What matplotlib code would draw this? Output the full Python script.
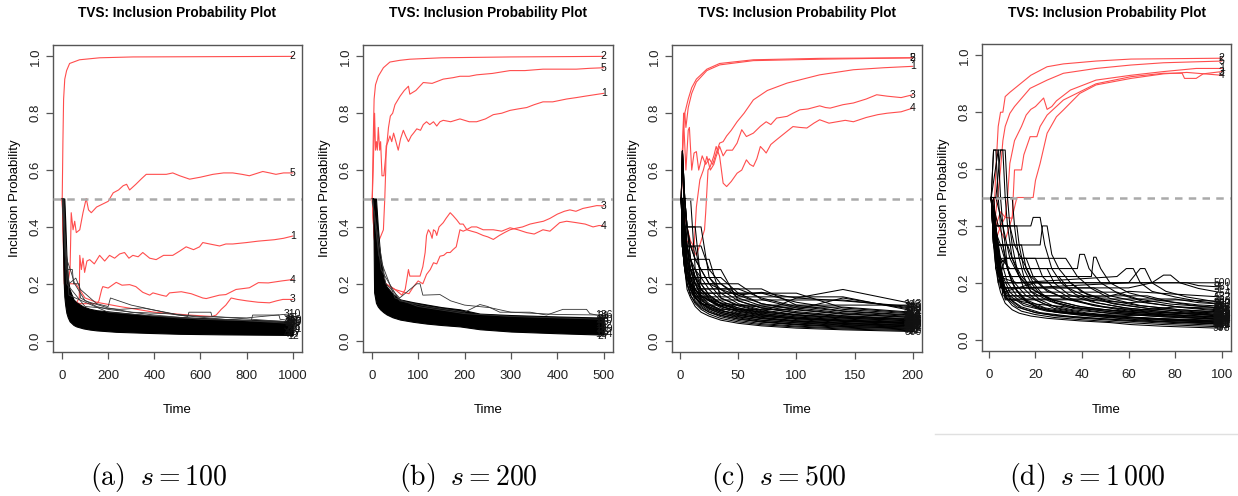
import matplotlib
matplotlib.use("Agg")
import matplotlib.pyplot as plt
from matplotlib import font_manager
from matplotlib.lines import Line2D

# ---------------- data ----------------
# panel (a): s = 100, T = 1000
a_red_ids = ["2", "5", "1", "4", "3"]
a_red_lines = [
    [(1, .5), (4, .7), (7, .85), (12, .92), (20, .95), (33, .975), (76, .988), (163, .995), (307, .998), (1000, 1.0)],
    [(1, .5), (10, .3), (25, .2), (35, .25), (40, .45), (48, .39), (55, .42), (62, .38), (77, .39), (91, .45),
     (105, .5), (115, .46), (127, .45), (150, .47), (175, .48), (200, .49), (222, .52), (245, .53), (265, .545),
     (280, .55), (293, .53), (320, .55), (345, .57), (365, .585), (400, .585), (452, .585), (480, .59), (510, .58),
     (553, .568), (600, .575), (654, .585), (700, .59), (740, .59), (780, .585), (812, .58), (870, .595),
     (900, .59), (927, .585), (960, .59), (1000, .59)],
    [(1, .5), (10, .25), (30, .15), (60, .13), (75, .15), (77, .3), (84, .25), (91, .29), (98, .24), (108, .28),
     (120, .285), (140, .27), (163, .3), (185, .28), (206, .3), (228, .29), (250, .305), (271, .31), (290, .29),
     (307, .3), (330, .295), (350, .31), (380, .29), (408, .285), (440, .3), (480, .3), (510, .315), (538, .33),
     (570, .32), (596, .33), (610, .345), (640, .34), (683, .333), (710, .34), (740, .34), (800, .345),
     (850, .35), (920, .355), (960, .36), (1000, .368)],
    [(1, .5), (10, .2), (30, .14), (80, .13), (150, .13), (160, .14), (172, .18), (177, .19), (200, .185),
     (235, .205), (260, .195), (293, .197), (320, .19), (350, .17), (380, .16), (394, .168), (430, .16),
     (452, .156), (466, .168), (517, .172), (560, .165), (610, .15), (625, .148), (682, .16), (710, .162),
     (754, .18), (812, .186), (851, .204), (894, .203), (952, .21), (1000, .215)],
    [(1, .5), (10, .3), (30, .2), (60, .2), (100, .15), (150, .135), (250, .12), (400, .1), (550, .09),
     (650, .085), (668, .09), (690, .11), (710, .125), (733, .15), (760, .145), (800, .14), (850, .135),
     (899, .133), (930, .14), (957, .145), (1000, .145)],
]
a_band_t = [1, 2, 4, 7, 10, 14, 19, 25, 33, 50, 62, 92, 120, 150, 235, 380, 510, 700, 1000]
a_band_lo = [.5, .5, .35, .215, .156, .125, .098, .082, .068, .055, .05, .043, .039, .036, .031, .027, .024, .022, .02]
a_band_hi = [.5, .5, .5, .5, .5, .42, .3, .22, .18, .145, .135, .12, .112, .107, .1, .088, .083, .076, .068]
a_band_ids = ["12", "407", "93", "251", "338", "74", "160", "219", "45"]
a_band_end = [.016, .024, .032, .04, .048, .056, .064, .072, .08]
a_gray_ids = ["485", "61", "227", "96", "310"]
a_gray_lines = [
    [(1, .5), (5, .5), (20, .25), (45, .25), (50, .2), (75, .2), (80, .15), (150, .12), (200, .11), (400, .09),
     (600, .075), (1000, .065)],
    [(1, .5), (10, .4), (30, .2), (60, .22), (80, .18), (150, .13), (200, .12), (210, .15), (300, .125),
     (500, .09), (700, .075), (1000, .06)],
    [(1, .5), (20, .2), (100, .12), (250, .11), (350, .115), (545, .085), (550, .1), (645, .1), (650, .085),
     (1000, .065)],
    [(1, .5), (30, .16), (200, .1), (500, .08), (820, .07), (826, .09), (940, .09), (945, .075), (1000, .07)],
    [(1, .5), (8, .5), (15, .3), (40, .24), (55, .2), (100, .14), (200, .115), (300, .1), (450, .095),
     (600, .085), (800, .08), (1000, .095)],
]

# panel (b): s = 200, T = 500
b_red_ids = ["2", "5", "1", "3", "4"]
b_red_lines = [
    [(1, .5), (3, .7), (5, .85), (8, .9), (14, .93), (25, .96), (39, .98), (60, .986), (82, .99), (150, .995),
     (300, .998), (500, 1.0)],
    [(1, .5), (3, .6), (6, .8), (8, .67), (10, .7), (12, .67), (14, .75), (17, .67), (19, .7), (22, .58),
     (26, .58), (30, .65), (33, .7), (36, .75), (40, .79), (45, .8), (50, .83), (61, .86), (70, .88), (79, .895),
     (82, .867), (95, .88), (111, .908), (130, .905), (154, .92), (175, .925), (190, .93), (210, .93),
     (226, .935), (260, .94), (298, .95), (330, .95), (369, .955), (400, .955), (441, .955), (470, .958),
     (500, .96)],
    [(1, .5), (4, .4), (8, .3), (15, .35), (25, .39), (28, .5), (30, .6), (31, .685), (35, .7), (39, .72),
     (43, .7), (47, .73), (52, .7), (57, .67), (62, .71), (68, .74), (73, .72), (79, .7), (85, .72), (90, .73),
     (97, .745), (105, .74), (111, .76), (118, .77), (125, .76), (133, .77), (140, .755), (147, .77),
     (154, .775), (170, .77), (190, .78), (210, .77), (226, .77), (245, .78), (262, .795), (280, .8),
     (298, .81), (315, .815), (334, .82), (350, .83), (369, .84), (390, .84), (405, .845), (420, .85),
     (441, .855), (460, .86), (480, .865), (500, .87)],
    [(1, .5), (4, .4), (8, .3), (15, .25), (30, .2), (50, .18), (65, .16), (72, .18), (76, .22), (79, .25),
     (82, .227), (104, .227), (110, .26), (115, .31), (118, .37), (122, .39), (126, .38), (130, .36),
     (133, .39), (137, .385), (140, .37), (145, .4), (154, .415), (160, .43), (169, .45), (175, .44),
     (183, .425), (190, .41), (197, .41), (205, .39), (215, .385), (226, .38), (240, .37), (250, .365),
     (262, .356), (275, .37), (286, .38), (298, .39), (310, .395), (325, .4), (341, .41), (355, .415),
     (370, .42), (384, .43), (400, .445), (415, .455), (427, .46), (440, .455), (455, .465), (470, .47),
     (485, .475), (500, .474)],
    [(1, .5), (4, .4), (8, .3), (15, .25), (30, .2), (50, .18), (70, .17), (80, .165), (90, .19), (100, .21),
     (110, .2), (118, .233), (126, .25), (133, .274), (140, .27), (147, .297), (155, .3), (162, .31),
     (169, .31), (175, .32), (182, .33), (190, .39), (197, .385), (204, .39), (215, .4), (226, .4), (240, .39),
     (262, .39), (280, .385), (298, .397), (315, .39), (334, .38), (350, .375), (369, .39), (384, .385),
     (405, .415), (420, .42), (441, .415), (460, .41), (477, .4), (490, .405), (500, .403)],
]
b_band_t = [1, 3, 5, 9, 13, 18, 25, 32, 45, 61, 90, 118, 150, 190, 233, 300, 400, 500]
b_band_lo = [.5, .5, .17, .133, .12, .11, .1, .092, .082, .074, .066, .06, .055, .05, .04, .032, .026, .021]
b_band_hi = [.5, .5, .5, .5, .4, .3, .22, .19, .165, .145, .135, .127, .118, .11, .095, .09, .085, .081]
b_band_ids = ["27", "154", "63", "199", "8", "112", "45", "170"]
b_band_end = [.016, .024, .032, .04, .048, .056, .064, .072]
b_gray_ids = ["136", "21", "88"]
b_gray_lines = [
    [(1, .5), (10, .4), (30, .2), (60, .15), (97, .2), (104, .2), (110, .16), (147, .162), (170, .14),
     (200, .125), (255, .116), (300, .1), (400, .092), (500, .09)],
    [(1, .5), (20, .25), (60, .14), (120, .12), (200, .1), (233, .127), (250, .12), (276, .1), (341, .1),
     (377, .09), (412, .11), (463, .11), (470, .095), (500, .085)],
    [(1, .5), (15, .3), (50, .15), (100, .12), (200, .095), (300, .085), (400, .08), (500, .075)],
]

# panel (c): s = 500, T = 200
c_red_ids = ["5", "2", "1", "3", "4"]
c_red_lines = [
    [(1, .5), (2, .6), (3, .8), (4, .8), (5, .75), (7, .82), (10, .87), (14, .91), (23, .95), (34, .97),
     (63, .985), (120, .99), (200, .995)],
    [(1, .5), (2, .67), (3, .75), (4, .8), (7, .85), (10, .89), (14, .92), (23, .955), (34, .975), (63, .988),
     (120, .993), (200, .995)],
    [(1, .5), (2, .67), (3, .78), (5, .6), (7, .74), (8, .75), (10, .6), (12, .66), (14, .665), (16, .6),
     (19, .65), (22, .62), (25, .64), (28, .62), (31, .66), (34, .695), (37, .7), (40, .72), (44, .74),
     (49, .77), (55, .8), (63, .847), (75, .88), (92, .906), (120, .935), (149, .953), (175, .96), (200, .965)],
    [(1, .5), (3, .45), (6, .4), (9, .35), (12, .33), (14, .47), (17, .566), (20, .6), (23, .648), (26, .6),
     (29, .62), (31, .648), (34, .683), (37, .65), (40, .67), (45, .67), (49, .695), (53, .742), (57, .718),
     (63, .73), (69, .754), (74, .77), (78, .76), (83, .783), (92, .789), (97, .8), (103, .812), (110, .815),
     (120, .826), (125, .82), (129, .818), (140, .83), (149, .836), (160, .85), (169, .865), (178, .86),
     (190, .855), (200, .865)],
    [(1, .5), (3, .4), (6, .35), (10, .33), (14, .3), (18, .35), (21, .39), (22, .45), (24, .6), (26, .613),
     (29, .65), (31, .683), (34, .648), (37, .554), (40, .542), (44, .56), (49, .589), (53, .6), (57, .636),
     (60, .62), (63, .613), (66, .64), (69, .683), (72, .67), (74, .66), (78, .69), (83, .707), (90, .73),
     (97, .753), (103, .75), (109, .748), (115, .765), (120, .777), (128, .765), (135, .77), (142, .775),
     (149, .77), (160, .785), (170, .795), (178, .8), (190, .805), (200, .818)],
]
c_black_t = [1, 2, 4, 6, 9, 13, 18, 25, 35, 50, 70, 100, 140, 200]
c_black = [
    [.50, .50, .25, .18, .15, .12, .10, .086, .072, .061, .052, .044, .038, .032],
    [.50, .33, .25, .20, .16, .13, .11, .093, .078, .066, .056, .048, .041, .035],
    [.50, .50, .33, .25, .18, .14, .12, .10, .084, .071, .060, .051, .044, .038],
    [.50, .667, .40, .286, .20, .15, .125, .105, .09, .076, .065, .055, .047, .041],
    [.50, .50, .40, .33, .22, .17, .135, .113, .095, .08, .068, .058, .05, .044],
    [.50, .667, .50, .33, .25, .18, .145, .12, .10, .085, .072, .062, .053, .047],
    [.50, .50, .50, .40, .286, .20, .155, .13, .108, .09, .077, .066, .057, .05],
    [.50, .33, .33, .33, .286, .22, .17, .14, .115, .096, .082, .07, .06, .053],
    [.50, .50, .50, .50, .50, .25, .18, .15, .122, .10, .087, .074, .064, .056],
    [.50, .667, .50, .40, .40, .40, .20, .16, .13, .108, .092, .078, .068, .06],
    [.50, .50, .33, .33, .33, .33, .222, .18, .14, .115, .097, .083, .072, .063],
    [.50, .40, .286, .286, .286, .286, .286, .286, .15, .122, .102, .087, .076, .066],
    [.50, .50, .40, .40, .40, .40, .40, .222, .167, .13, .108, .092, .08, .07],
    [.50, .33, .25, .25, .25, .25, .25, .25, .25, .14, .115, .097, .084, .073],
    [.50, .50, .333, .333, .333, .333, .333, .25, .20, .15, .122, .102, .088, .077],
    [.50, .40, .286, .222, .222, .222, .222, .222, .222, .167, .13, .108, .093, .081],
    [.50, .50, .33, .25, .20, .20, .20, .20, .20, .20, .145, .115, .098, .085],
    [.50, .33, .25, .222, .182, .182, .182, .182, .182, .182, .182, .125, .105, .09],
    [.50, .50, .40, .286, .222, .167, .167, .167, .167, .167, .167, .167, .115, .097],
    [.50, .33, .25, .20, .167, .154, .154, .154, .154, .154, .154, .154, .154, .105],
    [.50, .50, .33, .25, .20, .167, .143, .143, .143, .143, .143, .143, .143, .115],
    [.50, .40, .286, .222, .18, .15, .13, .125, .125, .125, .125, .125, .125, .125],
    [.50, .50, .33, .25, .20, .16, .14, .125, .11, .11, .10, .15, .18, .13],
    [.50, .667, .50, .40, .333, .286, .25, .20, .18, .16, .17, .15, .14, .12],
    [.50, .40, .286, .25, .20, .18, .16, .14, .12, .105, .09, .08, .07, .062],
    [.50, .33, .286, .222, .18, .15, .13, .115, .10, .088, .078, .068, .06, .052],
    [.50, .50, .286, .20, .16, .135, .115, .10, .088, .076, .066, .057, .05, .043],
    [.50, .667, .40, .25, .19, .155, .13, .11, .095, .083, .072, .063, .055, .048],
    [.50, .40, .333, .286, .222, .18, .15, .125, .105, .092, .08, .07, .062, .054],
    [.50, .50, .40, .333, .286, .222, .18, .145, .12, .103, .09, .078, .068, .059],
    [.50, .33, .286, .25, .25, .25, .20, .16, .132, .11, .095, .083, .073, .064],
    [.50, .50, .40, .40, .333, .286, .25, .20, .15, .125, .105, .09, .079, .069],
    [.50, .40, .333, .286, .286, .25, .222, .222, .18, .14, .115, .098, .086, .075],
    [.50, .50, .333, .333, .25, .222, .20, .20, .20, .16, .13, .11, .095, .082],
    [.50, .40, .333, .25, .222, .20, .182, .182, .182, .182, .15, .12, .103, .088],
    [.50, .50, .40, .286, .25, .20, .167, .167, .167, .167, .167, .135, .11, .094],
    [.50, .33, .25, .222, .20, .182, .154, .143, .133, .125, .118, .118, .118, .10],
    [.50, .50, .40, .333, .25, .20, .16, .14, .125, .11, .11, .11, .15, .11],
    [.50, .667, .50, .40, .286, .222, .182, .154, .13, .115, .10, .09, .082, .074],
    [.50, .40, .286, .222, .18, .154, .133, .118, .105, .095, .085, .077, .068, .06],
]
c_black_ids = ["500", "17", "381", "92", "244", "455", "8", "130", "312", "76", "409", "199", "58",
               "287", "433", "11", "350", "161", "224", "479", "37", "398", "143", "266", "65", "421",
               "102", "318", "27", "467", "205", "383", "49", "156", "299", "441", "83", "178", "362", "230"]

# panel (d): s = 1000, T = 100
d_red_ids = ["2", "5", "1", "3", "4"]
d_red_lines = [
    [(1, .5), (2, .4), (3, .6), (4, .75), (5, .8), (6, .8), (7, .855), (9, .87), (12, .89), (15, .91),
     (18, .93), (25, .96), (32, .97), (46, .98), (61, .987), (100, .99)],
    [(1, .5), (2, .35), (3, .45), (5, .6), (6, .7), (7, .75), (9, .796), (11, .82), (13.4, .843), (17.7, .884),
     (25, .913), (32, .937), (46, .954), (61, .966), (75, .974), (100, .98)],
    [(1, .5), (3, .35), (5, .4), (7, .43), (8, .5), (9, .62), (11, .7), (14, .75), (16, .79), (18, .81),
     (20, .82), (23.5, .85), (25, .81), (27, .82), (29, .84), (35, .878), (46, .913), (61, .93), (75, .943),
     (89, .954), (100, .954)],
    [(1, .5), (3, .4), (5, .45), (7, .43), (10, .427), (11, .597), (14, .597), (15, .65), (17.7, .714),
     (20.6, .714), (22, .75), (25, .79), (32, .843), (46, .9), (61, .925), (75, .937), (83, .937), (84, .919),
     (89, .919), (92, .935), (100, .943)],
    [(1, .5), (4, .4), (7, .35), (10, .43), (12, .5), (19, .5), (20, .56), (22, .62), (25, .726), (29, .784),
     (32, .808), (39, .866), (46, .896), (61, .919), (75, .935), (85, .94), (100, .93)],
]
d_black = [
    [(1, .5), (2, .333), (3, .25), (4, .2), (5, .167), (7, .128), (10, .105), (13, .093), (18, .083), (25, .075),
     (39, .066), (52, .06), (61, .053), (75, .047), (100, .04)],
    [(1, .5), (2, .333), (3, .333), (4, .25), (5, .2), (7, .15), (10, .12), (14, .1), (20, .088), (28, .078),
     (40, .07), (55, .062), (75, .053), (100, .045)],
    [(1, .5), (2, .5), (3, .4), (4, .333), (5, .25), (7, .18), (10, .135), (14, .11), (20, .095), (28, .084),
     (40, .075), (55, .067), (75, .058), (100, .05)],
    [(1, .5), (2, .667), (4, .667), (5, .5), (6, .4), (7, .333), (8, .25), (10, .2), (14, .15), (20, .115),
     (28, .097), (40, .085), (55, .075), (75, .064), (100, .055)],
    [(1, .5), (3, .5), (5, .667), (7, .667), (8, .5), (9, .4), (10, .333), (12, .25), (15, .18), (20, .14),
     (28, .11), (40, .093), (55, .082), (75, .07), (100, .06)],
    [(1, .5), (2, .333), (6, .333), (7, .286), (9, .222), (12, .17), (16, .135), (22, .11), (30, .095),
     (42, .085), (60, .074), (80, .066), (100, .06)],
    [(1, .5), (10, .5), (11, .4), (12, .333), (13, .286), (15, .222), (18, .17), (22, .14), (30, .11),
     (42, .094), (60, .08), (80, .071), (100, .065)],
    [(1, .5), (3, .4), (12, .4), (13, .333), (15, .25), (18, .2), (22, .16), (28, .13), (36, .11), (50, .095),
     (70, .083), (100, .07)],
    [(1, .5), (2, .333), (14, .333), (16, .25), (19, .2), (23, .16), (29, .13), (38, .112), (52, .098),
     (72, .086), (100, .075)],
    [(1, .5), (3, .4), (18, .4), (19, .43), (22, .43), (24, .333), (27, .25), (31, .2), (37, .16), (46, .13),
     (60, .11), (80, .095), (100, .082)],
    [(1, .5), (4, .333), (22, .333), (23, .4), (25, .4), (27, .3), (30, .25), (35, .2), (42, .16), (52, .13),
     (68, .11), (85, .097), (100, .088)],
    [(1, .5), (3, .25), (7, .286), (20, .286), (23, .222), (28, .18), (35, .145), (45, .12), (60, .1),
     (80, .088), (100, .08)],
    [(1, .5), (4, .2), (7, .286), (33, .286), (38, .222), (44, .18), (52, .145), (65, .12), (82, .105),
     (100, .095)],
    [(1, .5), (5, .286), (9, .25), (38, .25), (39, .3), (41, .3), (43, .25), (48, .2), (56, .16), (68, .13),
     (84, .112), (100, .1)],
    [(1, .5), (4, .222), (10, .222), (44, .222), (45, .29), (46, .29), (48, .25), (52, .2), (60, .165),
     (72, .14), (88, .12), (100, .11)],
    [(1, .5), (5, .2), (12, .2), (55, .222), (59, .25), (62, .25), (65, .2), (70, .17), (80, .15), (90, .135),
     (100, .125)],
    [(1, .5), (5, .182), (15, .182), (60, .2), (65, .25), (67, .25), (70, .2), (76, .17), (85, .15), (100, .13)],
    [(1, .5), (6, .167), (20, .2), (70, .2), (75, .227), (78, .227), (82, .2), (90, .18), (100, .165)],
    [(1, .5), (4, .222), (12, .2), (99, .2), (100, .2)],
    [(1, .5), (5, .182), (18, .182), (60, .182), (70, .2), (85, .2), (90, .19), (100, .185)],
    [(1, .5), (6, .154), (30, .154), (50, .15), (60, .17), (80, .16), (100, .15)],
    [(1, .5), (7, .14), (40, .14), (60, .13), (80, .14), (100, .135)],
    [(1, .5), (3, .25), (5, .2), (8, .143), (20, .125), (40, .11), (60, .1), (80, .115), (100, .11)],
    [(1, .5), (2, .4), (4, .286), (6, .2), (9, .154), (15, .12), (25, .1), (40, .09), (60, .085), (80, .09),
     (100, .1)],
    [(1, .5), (2, .4), (3, .286), (5, .2), (8, .143), (12, .115), (20, .095), (30, .084), (45, .075),
     (65, .066), (100, .058)],
    [(1, .5), (2, .5), (4, .286), (6, .222), (9, .167), (14, .13), (22, .108), (35, .093), (50, .083),
     (70, .075), (100, .068)],
    [(1, .5), (2, .333), (4, .25), (6, .182), (9, .143), (14, .115), (22, .095), (35, .082), (55, .07),
     (80, .06), (100, .055)],
    [(1, .5), (3, .333), (5, .286), (8, .2), (12, .154), (18, .125), (26, .105), (40, .09), (60, .078),
     (80, .07), (100, .065)],
    [(1, .5), (2, .4), (5, .333), (8, .25), (11, .2), (16, .154), (24, .125), (36, .105), (52, .092),
     (75, .08), (100, .072)],
    [(1, .5), (3, .5), (6, .4), (9, .286), (13, .222), (18, .18), (26, .143), (38, .118), (55, .1), (78, .087),
     (100, .078)],
    [(1, .5), (2, .333), (8, .333), (10, .286), (14, .222), (20, .17), (28, .138), (40, .115), (58, .098),
     (80, .086), (100, .078)],
    [(1, .5), (4, .4), (9, .4), (11, .333), (14, .286), (18, .222), (25, .17), (35, .14), (50, .115),
     (72, .097), (100, .085)],
    [(1, .5), (3, .286), (16, .286), (19, .222), (24, .18), (32, .145), (45, .12), (64, .1), (85, .09),
     (100, .085)],
    [(1, .5), (4, .25), (25, .25), (28, .2), (34, .16), (44, .133), (58, .112), (78, .097), (100, .088)],
    [(1, .5), (5, .222), (30, .222), (34, .182), (42, .15), (54, .125), (70, .108), (100, .092)],
    [(1, .5), (5, .2), (35, .2), (40, .167), (50, .14), (64, .12), (82, .105), (100, .098)],
    [(1, .5), (6, .182), (45, .182), (52, .154), (64, .133), (80, .116), (100, .104)],
    [(1, .5), (6, .167), (55, .167), (64, .143), (78, .125), (100, .112)],
    [(1, .5), (7, .154), (68, .154), (78, .133), (90, .122), (100, .118)],
    [(1, .5), (7, .143), (80, .143), (90, .13), (100, .125)],
    [(1, .5), (2, .667), (3, .667), (4, .5), (5, .4), (6, .333), (8, .25), (11, .182), (16, .14), (24, .112),
     (36, .095), (52, .082), (75, .07), (100, .062)],
    [(1, .5), (4, .667), (6, .667), (7, .5), (8, .4), (10, .286), (13, .222), (18, .17), (26, .135),
     (38, .112), (55, .095), (78, .082), (100, .072)],
]
d_black_ids = ["998", "14", "503", "271", "86", "640", "355", "912", "47", "730", "188", "566", "409",
               "823", "29", "677", "500", "254", "500", "961", "132", "788", "415", "60", "309", "874",
               "721", "36", "598", "243", "869", "117", "452", "690", "371", "935", "208", "547", "82",
               "763", "329", "615"]

panel_T = [1000, 500, 200, 100]
panel_xticks = [range(0, 1001, 200), range(0, 501, 100), range(0, 201, 50), range(0, 101, 20)]
captions = [r"$\mathrm{(a)}\;\ s = 100$", r"$\mathrm{(b)}\;\ s = 200$",
            r"$\mathrm{(c)}\;\ s = 500$", r"$\mathrm{(d)}\;\ s = 1\,000$"]

# ---------------- styling ----------------
names = {f.name for f in font_manager.fontManager.ttflist}
SANS = "Liberation Sans Narrow" if "Liberation Sans Narrow" in names else "Liberation Sans"
plt.rcParams["font.family"] = [SANS, "DejaVu Sans"]
plt.rcParams["mathtext.fontset"] = "cm"

RED = "#ff4d4d"
AX_COL = "#555555"
W, H = 1238, 496
boxes = [(53, 45, 302, 352), (363, 45, 613, 352), (672, 45, 922, 352), (982, 44, 1231, 351)]
cap_x = [159, 468, 779, 1087]

fig = plt.figure(figsize=(W / 100, H / 100), dpi=100)


def unzip(pts):
    return [p[0] for p in pts], [p[1] for p in pts]


def end_label(ax, T, v, s):
    ax.text(T, v, s, ha="center", va="center", fontsize=7.5, color="#111111", clip_on=False, zorder=6)


def setup(ax, T, xticks, box):
    ax.set_xlim(1 - 0.04 * (T - 1), T + 0.04 * (T - 1))
    ax.set_ylim(-0.04, 1.04)
    ax.set_xticks(list(xticks))
    ax.set_yticks([0, .2, .4, .6, .8, 1.0])
    ax.set_yticklabels(["0.0", "0.2", "0.4", "0.6", "0.8", "1.0"], rotation=90, va="center")
    for sp in ax.spines.values():
        sp.set_color(AX_COL)
        sp.set_linewidth(1.0)
    ax.tick_params(axis="both", direction="out", length=5, width=0.9, color=AX_COL,
                   labelcolor="#222222", labelsize=9.5)
    ax.tick_params(axis="x", pad=8)
    ax.tick_params(axis="y", pad=3)
    ax.axhline(0.5, color="#aaaaaa", lw=1.8, ls=(0, (3, 2.5)), zorder=5)
    w = box[2] - box[0]
    h = box[3] - box[1]
    ax.set_title("TVS: Inclusion Probability Plot", fontsize=9.8, fontweight="bold",
                 y=(box[3] - 13) / h, va="center", pad=0)
    ax.set_xlabel("Time", fontsize=9.5, va="center")
    ax.xaxis.set_label_coords(0.5, -(410 - box[3]) / h)
    ax.set_ylabel("Inclusion Probability", fontsize=9.5, va="center")
    ax.yaxis.set_label_coords(-38 / w, 0.5)


def draw_red(ax, T, ids, lines):
    for lab, pts in zip(ids, lines):
        t, v = unzip(pts)
        ax.plot(t, v, color=RED, lw=0.8, zorder=2)
        end_label(ax, T, v[-1], lab)


axes = []
for i, box in enumerate(boxes):
    x0, y0, x1, y1 = box
    ax = fig.add_axes([x0 / W, 1 - y1 / H, (x1 - x0) / W, (y1 - y0) / H])
    setup(ax, panel_T[i], panel_xticks[i], box)
    axes.append(ax)

# (a)
ax = axes[0]
draw_red(ax, 1000, a_red_ids, a_red_lines)
ax.fill_between(a_band_t, a_band_lo, a_band_hi, color="black", lw=0.8, zorder=3)
for lab, pts in zip(a_gray_ids, a_gray_lines):
    t, v = unzip(pts)
    ax.plot(t, v, color="#333333", lw=0.6, zorder=3)
    end_label(ax, 1000, v[-1], lab)
for lab, v in zip(a_band_ids, a_band_end):
    end_label(ax, 1000, v, lab)

# (b)
ax = axes[1]
draw_red(ax, 500, b_red_ids, b_red_lines)
ax.fill_between(b_band_t, b_band_lo, b_band_hi, color="black", lw=0.8, zorder=3)
for lab, pts in zip(b_gray_ids, b_gray_lines):
    t, v = unzip(pts)
    ax.plot(t, v, color="#333333", lw=0.6, zorder=3)
    end_label(ax, 500, v[-1], lab)
for lab, v in zip(b_band_ids, b_band_end):
    end_label(ax, 500, v, lab)

# (c)
ax = axes[2]
draw_red(ax, 200, c_red_ids, c_red_lines)
for lab, v in zip(c_black_ids, c_black):
    ax.plot(c_black_t, v, color="black", lw=0.75, zorder=3)
    end_label(ax, 200, v[-1], lab)

# (d)
ax = axes[3]
draw_red(ax, 100, d_red_ids, d_red_lines)
for lab, pts in zip(d_black_ids, d_black):
    t, v = unzip(pts)
    ax.plot(t, v, color="black", lw=0.75, zorder=3)
    end_label(ax, 100, v[-1], lab)

for cx, cap in zip(cap_x, captions):
    fig.text(cx / W, 1 - 477 / H, cap, ha="center", va="center", fontsize=20)

fig.add_artist(Line2D([935 / W, 1.0], [1 - 434 / H, 1 - 434 / H], color="#e0e0e0", lw=1))

fig.savefig("out.png", dpi=100)
